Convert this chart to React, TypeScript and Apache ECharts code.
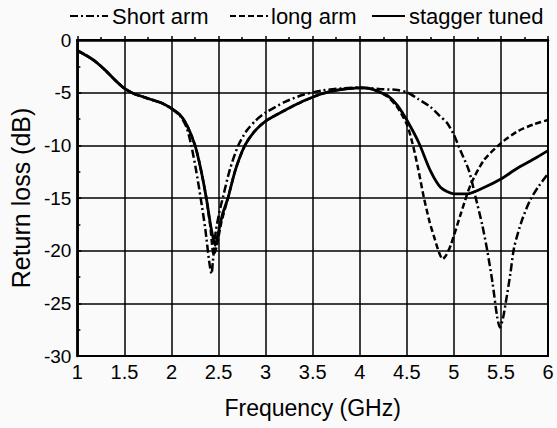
import React, { useEffect, useRef } from "react";
import * as echarts from "echarts";

const seriesNames = ["Short arm", "long arm", "stagger tuned"];

const freqShort = [1.0, 1.1, 1.2, 1.3, 1.4, 1.5, 1.6, 1.7, 1.8, 1.9, 2.0, 2.1, 2.16, 2.21, 2.26, 2.31, 2.36, 2.4, 2.425, 2.44, 2.47, 2.51, 2.55, 2.62, 2.71, 2.8, 2.9, 3.0, 3.2, 3.4, 3.6, 3.8, 4.0, 4.2, 4.4, 4.51, 4.62, 4.75, 4.85, 4.93, 5.0, 5.07, 5.16, 5.23, 5.3, 5.355, 5.41, 5.46, 5.49, 5.52, 5.55, 5.6, 5.64, 5.72, 5.81, 5.9, 6.0];
const valShort = [-1.0, -1.5, -2.1, -2.9, -3.8, -4.6, -5.1, -5.4, -5.7, -6.0, -6.5, -7.3, -8.3, -10.0, -12.3, -15.0, -18.0, -21.0, -22.2, -21.0, -18.2, -16.3, -14.8, -12.3, -10.0, -8.6, -7.6, -6.9, -5.9, -5.2, -4.8, -4.6, -4.5, -4.65, -4.75, -5.0, -5.6, -6.35, -7.2, -7.9, -9.0, -10.5, -12.4, -14.9, -17.5, -20.0, -23.0, -26.3, -27.3, -26.5, -25.0, -22.2, -19.7, -17.2, -15.2, -13.9, -12.7];

const freqLong = [1.0, 1.1, 1.2, 1.3, 1.4, 1.5, 1.6, 1.7, 1.8, 1.9, 2.0, 2.1, 2.17, 2.25, 2.31, 2.37, 2.41, 2.45, 2.48, 2.53, 2.6, 2.68, 2.78, 2.88, 3.0, 3.2, 3.4, 3.6, 3.8, 4.0, 4.1, 4.2, 4.3, 4.4, 4.5, 4.56, 4.62, 4.68, 4.74, 4.79, 4.84, 4.88, 4.92, 4.97, 5.07, 5.18, 5.32, 5.5, 5.67, 5.85, 6.0];
const valLong = [-1.0, -1.5, -2.1, -2.9, -3.8, -4.6, -5.1, -5.4, -5.7, -6.0, -6.5, -7.2, -8.2, -10.0, -12.2, -15.0, -17.5, -20.4, -19.6, -17.3, -15.0, -12.3, -10.0, -8.7, -7.7, -6.7, -5.8, -5.1, -4.7, -4.55, -4.6, -4.9, -5.4, -6.4, -8.0, -9.8, -12.2, -14.9, -17.2, -18.7, -20.1, -20.8, -20.4, -19.4, -16.6, -13.7, -11.4, -9.8, -8.7, -8.0, -7.6];

const freqStag = [1.0, 1.1, 1.2, 1.3, 1.4, 1.5, 1.6, 1.7, 1.8, 1.9, 2.0, 2.1, 2.17, 2.25, 2.31, 2.37, 2.42, 2.465, 2.49, 2.54, 2.6, 2.68, 2.78, 2.88, 3.0, 3.2, 3.4, 3.6, 3.8, 4.0, 4.1, 4.2, 4.3, 4.4, 4.5, 4.63, 4.75, 4.86, 5.0, 5.14, 5.32, 5.5, 5.67, 5.85, 6.0];
const valStag = [-1.0, -1.5, -2.1, -2.9, -3.8, -4.6, -5.1, -5.4, -5.7, -6.0, -6.5, -7.2, -8.2, -10.0, -12.2, -15.0, -17.8, -19.5, -18.6, -16.6, -15.0, -12.3, -10.0, -8.7, -7.7, -6.7, -5.8, -5.1, -4.7, -4.55, -4.6, -4.9, -5.3, -6.2, -7.6, -9.8, -12.4, -14.0, -14.6, -14.6, -14.0, -13.2, -12.2, -11.3, -10.5];

const FONT = "'Liberation Sans', Arial, Helvetica, sans-serif";
const dashShort = [8, 3, 2, 3];
const dashLong = [6, 3];

function pairs(xs: number[], ys: number[]) {
  return xs.map((x, i) => [x, ys[i]]);
}

export default function App() {
  const ref = useRef<HTMLDivElement>(null);
  useEffect(() => {
    if (!ref.current) return;
    const chart = echarts.init(ref.current, undefined, { renderer: "svg" });
    const lineBase = { type: "line", showSymbol: false, symbol: "none", smooth: 0.25 };
    const legendY = 16;
    const legendItems = [
      { x1: 70, x2: 108, tx: 112, dash: dashShort, label: seriesNames[0] },
      { x1: 230, x2: 268, tx: 271, dash: dashLong, label: seriesNames[1] },
      { x1: 372, x2: 405, tx: 409, dash: null as number[] | null, label: seriesNames[2] },
    ];
    const graphic: any[] = [];
    legendItems.forEach((it) => {
      graphic.push({
        type: "line",
        shape: { x1: it.x1, y1: legendY, x2: it.x2, y2: legendY },
        style: { stroke: "#000", lineWidth: 2.2, lineDash: it.dash || undefined },
      });
      graphic.push({
        type: "text",
        x: it.tx,
        y: legendY,
        style: {
          text: it.label,
          font: `22px ${FONT}`,
          fill: "#000",
          verticalAlign: "middle",
          align: "left",
        },
      });
    });
    chart.setOption({
      animation: false,
      backgroundColor: "#fafafa",
      graphic,
      grid: {
        left: 76,
        right: 9,
        top: 40,
        bottom: 72,
        show: true,
        borderColor: "#000",
        borderWidth: 2,
        backgroundColor: "transparent",
      },
      xAxis: {
        type: "value",
        min: 1,
        max: 6,
        interval: 0.5,
        name: "Frequency (GHz)",
        nameLocation: "middle",
        nameGap: 40,
        nameTextStyle: { fontFamily: FONT, fontSize: 23, color: "#000" },
        axisLine: { show: true, lineStyle: { color: "#000", width: 2.5 } },
        axisTick: { show: true, inside: true, length: 4, lineStyle: { color: "#000", width: 1.5 } },
        minorTick: { show: true, splitNumber: 2, length: 3, lineStyle: { color: "#000", width: 1.5 } },
        axisLabel: { fontFamily: FONT, fontSize: 20, color: "#000", margin: 6 },
        splitLine: { show: true, lineStyle: { color: "#000", width: 1.5 } },
      },
      yAxis: {
        type: "value",
        min: -30,
        max: 0,
        interval: 5,
        name: "Return loss (dB)",
        nameLocation: "middle",
        nameRotate: 90,
        nameGap: 42,
        nameTextStyle: { fontFamily: FONT, fontSize: 25, color: "#000" },
        axisLine: { show: true, lineStyle: { color: "#000", width: 2.5 } },
        axisTick: { show: true, inside: true, length: 4, lineStyle: { color: "#000", width: 1.5 } },
        minorTick: { show: true, splitNumber: 2, length: 3, lineStyle: { color: "#000", width: 1.5 } },
        axisLabel: { fontFamily: FONT, fontSize: 19, color: "#000", margin: 6 },
        splitLine: { show: true, lineStyle: { color: "#000", width: 1.5 } },
      },
      series: [
        {
          ...lineBase,
          name: seriesNames[0],
          data: pairs(freqShort, valShort),
          lineStyle: { color: "#000", width: 2.5, type: dashShort },
          itemStyle: { color: "#000" },
          z: 3,
        },
        {
          ...lineBase,
          name: seriesNames[1],
          data: pairs(freqLong, valLong),
          lineStyle: { color: "#000", width: 2.5, type: dashLong },
          itemStyle: { color: "#000" },
          z: 4,
        },
        {
          ...lineBase,
          name: seriesNames[2],
          data: pairs(freqStag, valStag),
          lineStyle: { color: "#000", width: 2.8, type: "solid" },
          itemStyle: { color: "#000" },
          z: 5,
        },
      ],
    });
    return () => chart.dispose();
  }, []);
  return (
    <div
      ref={ref}
      style={{ position: "fixed", left: 0, top: 0, width: 557, height: 428 }}
    />
  );
}
